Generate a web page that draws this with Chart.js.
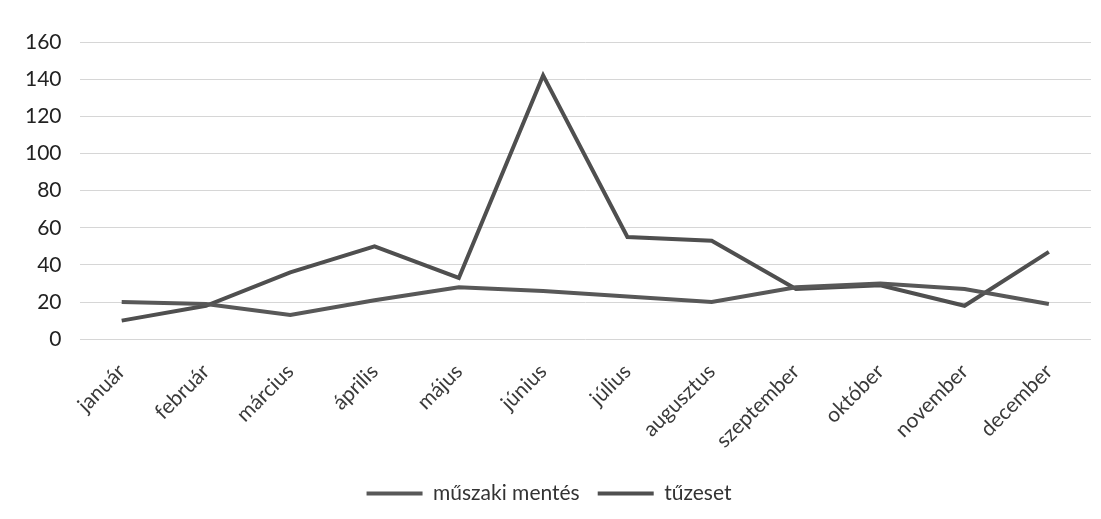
<!DOCTYPE html>
<html>
<head>
<meta charset="utf-8">
<script src="https://cdn.jsdelivr.net/npm/chart.js@4/dist/chart.umd.min.js"></script>
<style>
  html, body { margin: 0; padding: 0; background: #fff; }
  #wrap { width: 1101px; height: 519px; }
</style>
</head>
<body>
<div id="wrap"><canvas id="chart" width="1101" height="519"></canvas></div>
<script>
// havi adatok
const months = ["január", "február", "március", "április", "május", "június",
  "július", "augusztus", "szeptember", "október", "november", "december"];
const muszakiMentes = [20, 19, 13, 21, 28, 26, 23, 20, 28, 30, 27, 19];
const tuzeset = [10, 18, 36, 50, 33, 142, 55, 53, 27, 29, 18, 47];
const yTicks = [0, 20, 40, 60, 80, 100, 120, 140, 160];

const fontFamily = "Lato, 'Open Sans', sans-serif";

new Chart(document.getElementById("chart").getContext("2d"), {
  type: "line",
  data: {
    labels: months,
    datasets: [
      {
        label: "műszaki mentés",
        data: muszakiMentes,
        borderColor: "#585858",
        backgroundColor: "#585858",
        borderWidth: 4,
        pointRadius: 0,
        tension: 0,
        fill: false
      },
      {
        label: "tűzeset",
        data: tuzeset,
        borderColor: "#4f4f4f",
        backgroundColor: "#4f4f4f",
        borderWidth: 4,
        pointRadius: 0,
        tension: 0,
        fill: false
      }
    ]
  },
  options: {
    responsive: false,
    animation: false,
    layout: { padding: { left: 7, right: 10, top: 42, bottom: 5 } },
    plugins: {
      legend: {
        position: "bottom",
        labels: {
          usePointStyle: true,
          pointStyle: "line",
          pointStyleWidth: 56,
          boxHeight: 4,
          color: "#333",
          padding: 18,
          font: { family: fontFamily, size: 21 }
        }
      },
      tooltip: { enabled: false }
    },
    scales: {
      x: {
        offset: true,
        grid: { display: false },
        border: { display: false },
        ticks: {
          minRotation: 45,
          maxRotation: 45,
          color: "#3a3a3a",
          padding: 12,
          font: { family: fontFamily, size: 21 }
        }
      },
      y: {
        min: 0,
        max: 160,
        afterBuildTicks: axis => { axis.ticks = yTicks.map(v => ({ value: v })); },
        grid: { color: "#d6d6d6", lineWidth: 1, drawTicks: false },
        border: { display: false },
        ticks: {
          color: "#222",
          padding: 18,
          font: { family: fontFamily, size: 21 }
        }
      }
    }
  }
});
</script>
</body>
</html>
